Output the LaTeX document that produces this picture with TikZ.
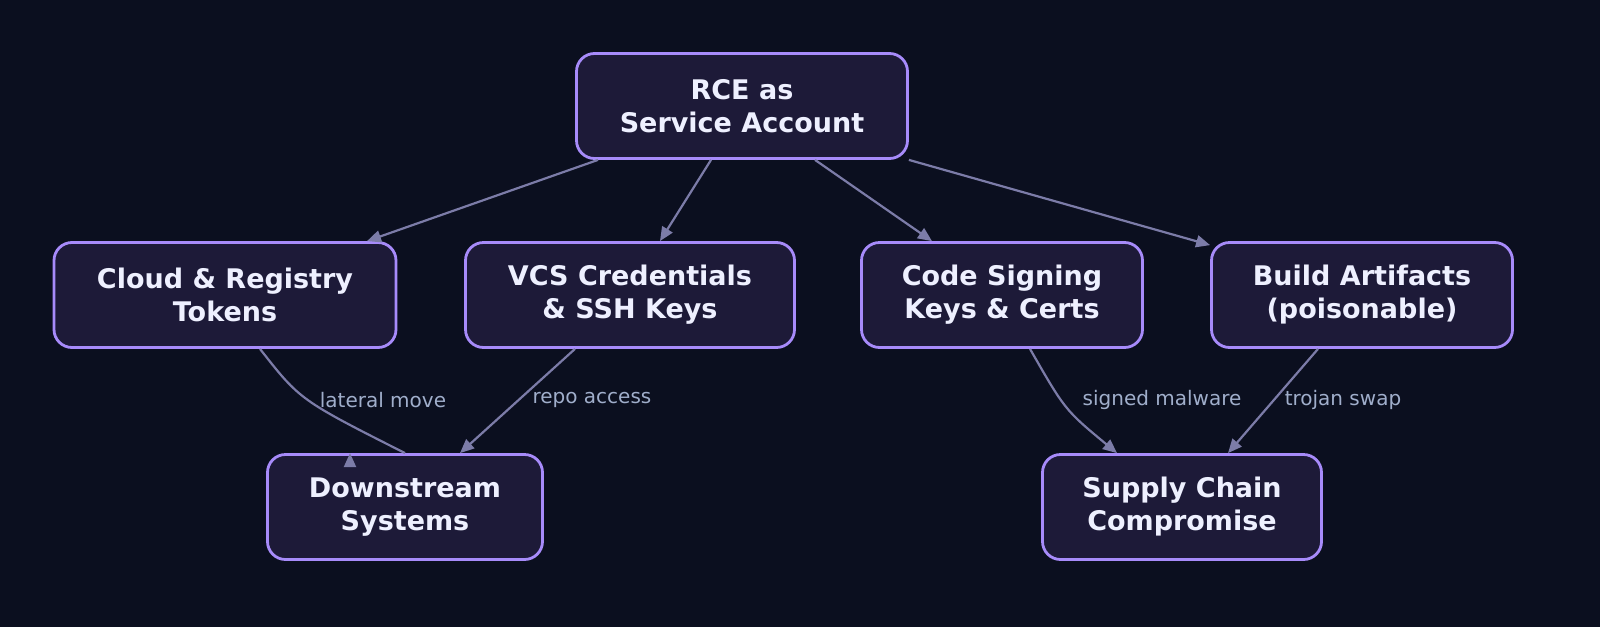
\documentclass[tikz,border=0pt]{standalone}
\usepackage{fontspec}
\setmainfont{DejaVu Sans}
\usetikzlibrary{arrows.meta}
\definecolor{bg}{HTML}{0B0F1F}
\definecolor{nfill}{HTML}{1D1A38}
\definecolor{nbord}{HTML}{A78BFA}
\definecolor{ntext}{HTML}{EEF0FF}
\definecolor{edge}{HTML}{7C7CA8}
\definecolor{lab}{HTML}{A0AECB}
\begin{document}
\begin{tikzpicture}[x=0.5pt,y=-0.5pt,
  box/.style={draw=nbord,line width=1.4pt,fill=nfill,rounded corners=9pt,minimum height=52.5pt,align=center,text=ntext,font=\bfseries\fontsize{13.5}{16.5}\selectfont,inner sep=0pt},
  con/.style={draw=edge,line width=1.1pt,-{Triangle[length=7pt,width=6pt]}},
  lbl/.style={text=lab,font=\fontsize{10}{12}\selectfont}]
\fill[bg] (0,0) rectangle (1600,627);
\node[box,minimum width=165.5pt] (rce) at (742,106) {RCE as\\Service Account};
\node[box,minimum width=171pt] (cloud) at (225,295) {Cloud \& Registry\\Tokens};
\node[box,minimum width=164.5pt] (vcs) at (630,295) {VCS Credentials\\\& SSH Keys};
\node[box,minimum width=140.5pt] (code) at (1002,295) {Code Signing\\Keys \& Certs};
\node[box,minimum width=150.5pt] (build) at (1362,295) {Build Artifacts\\(poisonable)};
\node[box,minimum width=137.5pt] (down) at (405,507) {Downstream\\Systems};
\node[box,minimum width=139.5pt] (sup) at (1182,507) {Supply Chain\\Compromise};
\draw[con] ([xshift=-72pt]rce.south) -- ([xshift=71pt]cloud.north);
\draw[con] ([xshift=-15.5pt]rce.south) -- ([xshift=15pt]vcs.north);
\draw[con] ([xshift=36.5pt]rce.south) -- ([xshift=-35pt]code.north);
\draw[con] (rce.south east) -- ([yshift=-2pt]build.north west);
\draw[con] ([xshift=17.5pt]cloud.south) .. controls (300,400) .. (down.north) ++(-27.5pt,0) coordinate (d1);
\draw[con] ([xshift=-27.5pt]vcs.south) -- ([xshift=27.5pt]down.north);
\draw[con] ([xshift=14pt]code.south) .. controls (1065,410) .. ([xshift=-32.5pt]sup.north);
\draw[con] ([xshift=-22pt]build.south) -- ([xshift=23pt]sup.north);
\node[lbl] (l1) at (383,400) {lateral move};
\node[lbl] (l2) at (592,400) {repo access};
\node[lbl] (l3) at (1162,400) {signed malware};
\node[lbl] (l4) at (1343,400) {trojan swap};
\end{tikzpicture}
\end{document}
